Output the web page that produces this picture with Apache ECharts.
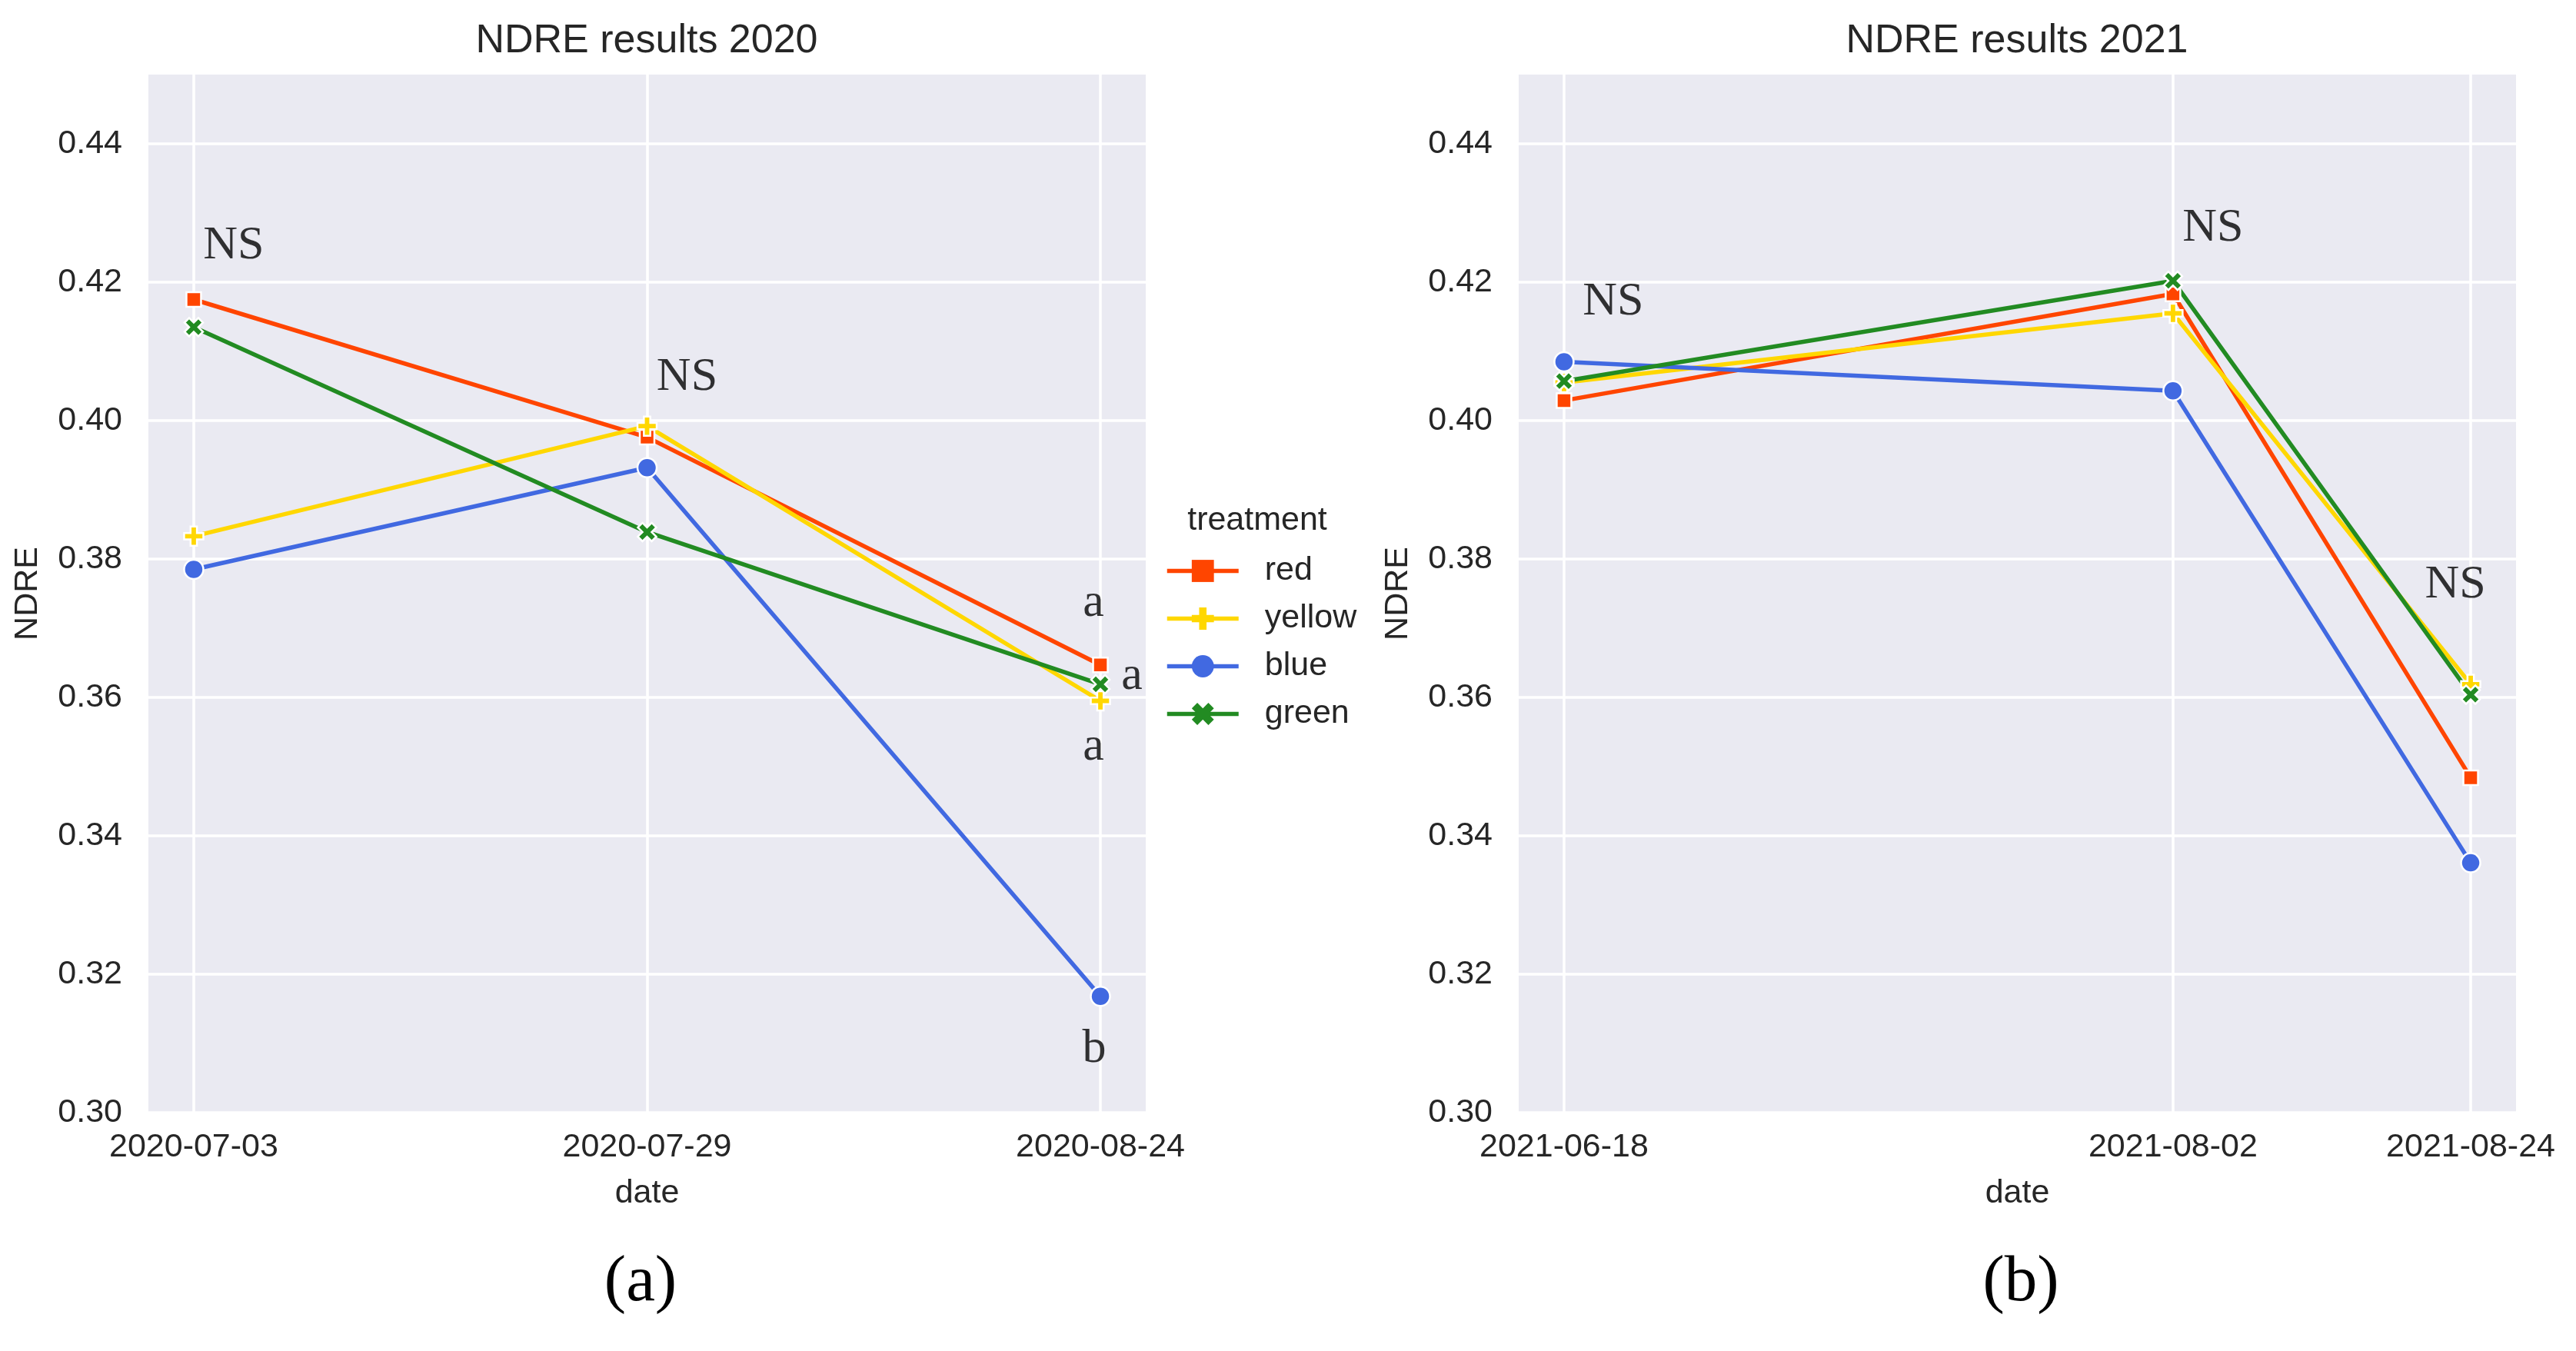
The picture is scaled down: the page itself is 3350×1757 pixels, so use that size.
<!DOCTYPE html>
<html>
<head>
<meta charset="utf-8">
<script src="https://cdn.jsdelivr.net/npm/echarts@6/dist/echarts.min.js"></script>
<style>
html,body{margin:0;padding:0;background:#fff;}
#c{width:3350px;height:1757px;}
</style>
</head>
<body>
<div id="c"></div>
<script>
// ---------------- DATA ----------------
const treatments = ['red', 'yellow', 'blue', 'green'];

const dates2020 = ['2020-07-03', '2020-07-29', '2020-08-24'];
const red2020    = [0.4175, 0.3976, 0.3647];
const yellow2020 = [0.3833, 0.3992, 0.3595];
const blue2020   = [0.3785, 0.3932, 0.3168];
const green2020  = [0.4135, 0.3839, 0.3619];

const dates2021 = ['2021-06-18', '2021-08-02', '2021-08-24'];
const red2021    = [0.4029, 0.4183, 0.3484];
const yellow2021 = [0.4055, 0.4155, 0.3619];
const blue2021   = [0.4085, 0.4043, 0.3361];
const green2021  = [0.4057, 0.4202, 0.3604];

const yTicks = [0.30, 0.32, 0.34, 0.36, 0.38, 0.40, 0.42, 0.44];

const titles = ['NDRE results 2020', 'NDRE results 2021'];
const panelLabels = ['(a)', '(b)'];

// significance letters: text, date, y-value
const annot2020Text  = ['NS', 'NS', 'a', 'a', 'a', 'b'];
const annot2020Date  = ['2020-07-03', '2020-07-29', '2020-08-24', '2020-08-24', '2020-08-24', '2020-08-24'];
const annot2020Value = [0.4252, 0.4062, 0.3736, 0.3630, 0.3528, 0.3091];

const annot2021Text  = ['NS', 'NS', 'NS'];
const annot2021Date  = ['2021-06-18', '2021-08-02', '2021-08-24'];
const annot2021Value = [0.4171, 0.4278, 0.3762];

// ---------------- LAYOUT / STYLE ----------------
const annot2020Dx = [52, 52, -9, 41, -9, -8];
const annot2021Dx = [64, 52, -20];

const SANS = "'Liberation Sans', Arial, Helvetica, sans-serif";
const SERIF = "'Liberation Serif', 'Times New Roman', serif";
const TXT = '#262626';
const DAY = 86400000;
const colors = { red: '#FF4500', yellow: '#FFD700', blue: '#4169E1', green: '#228B22' };
const plusPath = 'path://M2,0H4V2H6V4H4V6H2V4H0V2H2Z';
const xPath = 'path://M2,-4L4,-2L2,0L4,2L2,4L0,2L-2,4L-4,2L-2,0L-4,-2L-2,-4L0,-2Z';
const symbols = { red: 'rect', yellow: plusPath, blue: 'circle', green: xPath };
const symSizes = { red: 19, yellow: 25, blue: 25, green: 24 };

function ts(s) { const p = s.split('-').map(Number); return Date.UTC(p[0], p[1] - 1, p[2]); }
function fmtDate(v) {
  const d = new Date(Math.round(v));
  const pad = n => (n < 10 ? '0' : '') + n;
  return d.getUTCFullYear() + '-' + pad(d.getUTCMonth() + 1) + '-' + pad(d.getUTCDate());
}

const PLOT_W = 1297, PLOT_H = 1350, TOP = 97;
const lefts = [193, 1975];

function xAxis(gi, dates, marginDays) {
  const t = dates.map(ts);
  return {
    type: 'value', gridIndex: gi,
    min: t[0] - marginDays * DAY, max: t[t.length - 1] + marginDays * DAY,
    axisLine: { show: false },
    axisTick: { show: false, customValues: t },
    axisLabel: { customValues: t, formatter: v => fmtDate(v), fontSize: 43, color: TXT, fontFamily: SANS, margin: 24, showMinLabel: true, showMaxLabel: true },
    splitLine: { show: true, lineStyle: { color: '#ffffff', width: 3.5 } },
    name: 'date', nameLocation: 'middle', nameGap: 84,
    nameTextStyle: { fontSize: 43, color: TXT, fontFamily: SANS }
  };
}
function yAxis(gi) {
  return {
    type: 'value', gridIndex: gi, min: 0.30, max: 0.45,
    axisLine: { show: false },
    axisTick: { show: false, customValues: yTicks },
    axisLabel: { customValues: yTicks, formatter: v => v.toFixed(2), fontSize: 43, color: TXT, fontFamily: SANS, margin: 34 },
    splitLine: { show: true, lineStyle: { color: '#ffffff', width: 3.5 } },
    name: 'NDRE', nameLocation: 'middle', nameGap: 135, nameRotate: 90,
    nameTextStyle: { fontSize: 43, color: TXT, fontFamily: SANS }
  };
}
function lineSeries(name, gi, dates, values) {
  const c = colors[name];
  return {
    name: name, type: 'line', xAxisIndex: gi, yAxisIndex: gi,
    data: dates.map((d, i) => [ts(d), values[i]]),
    symbol: symbols[name], symbolSize: symSizes[name], showAllSymbol: true,
    lineStyle: { color: c, width: 5.5 },
    itemStyle: { color: c, borderColor: '#ffffff', borderWidth: 2.5 },
    emphasis: { disabled: true },
    z: 3
  };
}
function annotSeries(gi, texts, dates, values, dxs) {
  return {
    type: 'scatter', xAxisIndex: gi, yAxisIndex: gi, silent: true, z: 10,
    symbolSize: 1, itemStyle: { color: 'rgba(0,0,0,0)' },
    data: texts.map((t, i) => ({ name: t, value: [ts(dates[i]), values[i]], label: { offset: [dxs[i], 0] } })),
    label: { show: true, position: 'inside', formatter: '{b}', fontFamily: SERIF, fontSize: 62, color: '#000000', align: 'center', verticalAlign: 'middle' },
    emphasis: { disabled: true }
  };
}

const series = [];
const d2020 = { red: red2020, yellow: yellow2020, blue: blue2020, green: green2020 };
const d2021 = { red: red2021, yellow: yellow2021, blue: blue2021, green: green2021 };
treatments.forEach(n => series.push(lineSeries(n, 0, dates2020, d2020[n])));
treatments.forEach(n => series.push(lineSeries(n, 1, dates2021, d2021[n])));
series.push(annotSeries(0, annot2020Text, annot2020Date, annot2020Value, annot2020Dx));
series.push(annotSeries(1, annot2021Text, annot2021Date, annot2021Value, annot2021Dx));

const option = {
  animation: false,
  backgroundColor: '#ffffff',
  grid: lefts.map(l => ({ left: l, top: TOP, width: PLOT_W, height: PLOT_H, show: true, backgroundColor: '#EAEAF2', borderWidth: 0, containLabel: false })),
  xAxis: [xAxis(0, dates2020, 2.6), xAxis(1, dates2021, 3.35)],
  yAxis: [yAxis(0), yAxis(1)],
  legend: {
    data: treatments, orient: 'vertical', left: 1510, top: 716,
    itemWidth: 93, itemHeight: 36, itemGap: 19, selectedMode: false,
    itemStyle: { borderWidth: 0 },
    lineStyle: { width: 5.5 },
    textStyle: { fontSize: 43, color: TXT, fontFamily: SANS, lineHeight: 43, padding: [0, 0, 0, 29] }
  },
  graphic: [
    { type: 'text', x: 841, y: 54, style: { text: titles[0], font: '52px ' + SANS, fill: TXT, textAlign: 'center', textVerticalAlign: 'middle' } },
    { type: 'text', x: 2623, y: 54, style: { text: titles[1], font: '52px ' + SANS, fill: TXT, textAlign: 'center', textVerticalAlign: 'middle' } },
    { type: 'text', x: 1635, y: 677, style: { text: 'treatment', font: '43px ' + SANS, fill: TXT, textAlign: 'center', textVerticalAlign: 'middle' } },
    { type: 'text', x: 833, y: 1669, style: { text: panelLabels[0], font: '85px ' + SERIF, fill: '#000', textAlign: 'center', textVerticalAlign: 'middle' } },
    { type: 'text', x: 2628, y: 1669, style: { text: panelLabels[1], font: '85px ' + SERIF, fill: '#000', textAlign: 'center', textVerticalAlign: 'middle' } }
  ],
  series: series
};

const chart = echarts.init(document.getElementById('c'), null, { renderer: 'canvas', width: 3350, height: 1757 });
chart.setOption(option);
</script>
</body>
</html>
